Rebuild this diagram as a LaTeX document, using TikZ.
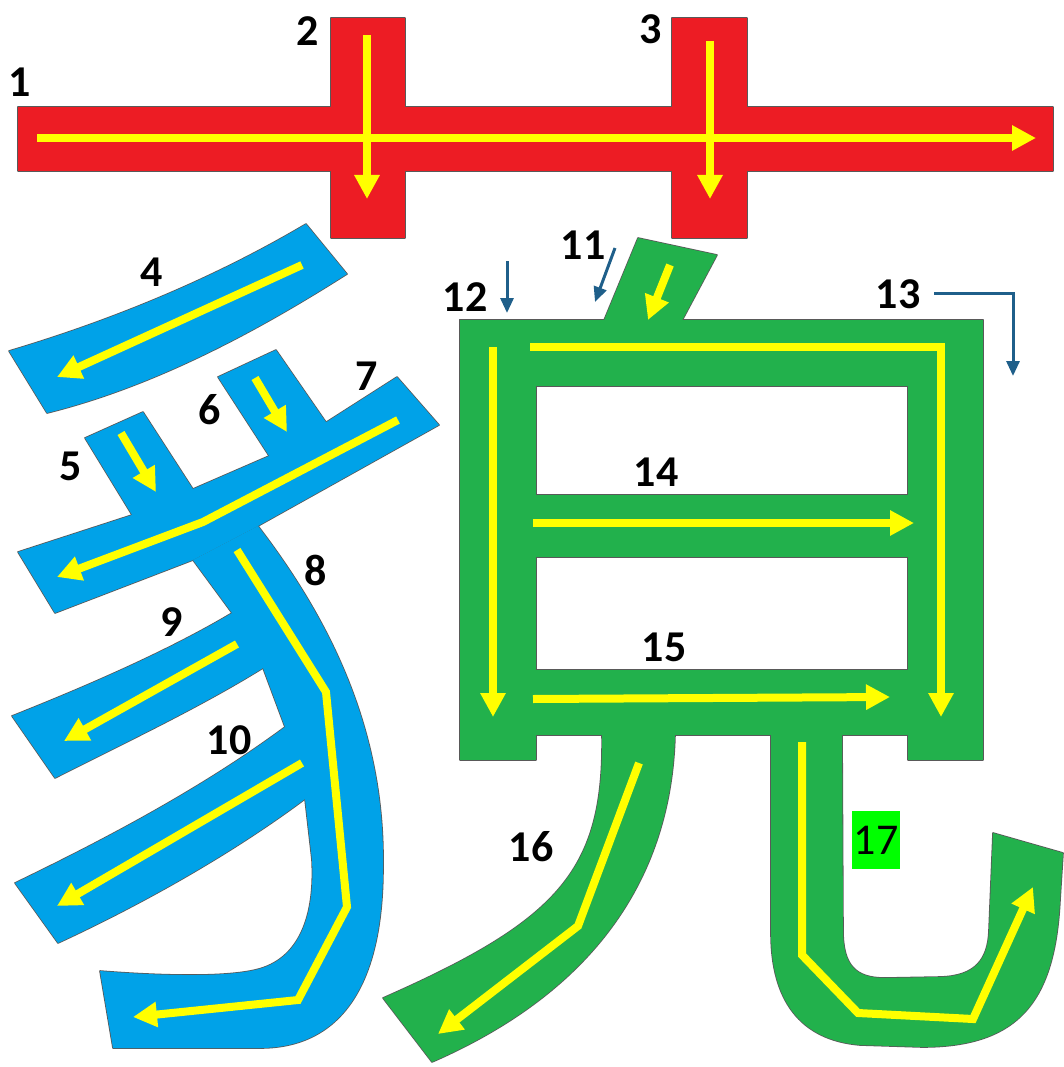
\documentclass[tikz,border=0pt]{standalone}
\usepackage{fontspec}
\setmainfont{Carlito}
\usetikzlibrary{arrows.meta}
\definecolor{redC}{HTML}{ED1C24}
\definecolor{blueC}{HTML}{00A2E8}
\definecolor{greenC}{HTML}{22B14C}
\definecolor{yelC}{HTML}{FFFF00}
\definecolor{navyC}{HTML}{1F5F8A}
\definecolor{labG}{HTML}{00FF00}
\begin{document}
\begin{tikzpicture}[x=1pt,y=-1pt,
  edge/.style={draw=black!65,line width=1.6pt,line join=round},
  yarr/.style={draw=yelC,line width=8pt,-{Triangle[length=24pt,width=24pt]}},
  narr/.style={draw=navyC,line width=3pt,-{Triangle[length=15pt,width=13pt]}},
  lab/.style={font=\bfseries\fontsize{44}{48}\selectfont,inner sep=0pt}]
\useasboundingbox (0,0) rectangle (1063,1067);
% ---------- shape paths ----------
\def\rA{(18,107) rectangle (1053,171)}
\def\rB{(331,18) rectangle (405,238)}
\def\rC{(672,18) rectangle (747,238)}
\def\bFour{(9,351) .. controls (120,318) and (220,275) .. (306,224) -- (347,274) .. controls (265,326) and (160,385) .. (47,413) -- cycle}
\def\bSeven{(18,552) -- (132,515) -- (193,489) -- (269,456) -- (325,423) -- (397,377) -- (439,425) -- (258,526) -- (193,560) -- (55,613) -- cycle}
\def\bFive{(85,438) -- (143,412) -- (200,500) -- (140,528) -- cycle}
\def\bSix{(218,377) -- (276,350) -- (330,428) -- (275,465) -- cycle}
\def\bEight{(193,560) -- (258,526) .. controls (330,620) and (385,730) .. (383,867) .. controls (383,1000) and (330,1048) .. (260,1048) -- (113,1048) -- (100,971) .. controls (150,975) and (220,978) .. (255,970) .. controls (300,960) and (315,915) .. (312,860) -- (305,799) -- (285,727) -- (263,668) -- (232,613) -- cycle}
\def\bNine{(12,716) .. controls (90,685) and (170,650) .. (232,613) -- (275,640) -- (263,668) .. controls (200,707) and (130,740) .. (55,778) -- cycle}
\def\bTen{(15,883) .. controls (100,842) and (200,790) .. (285,727) -- (310,760) -- (305,799) .. controls (230,855) and (140,905) .. (58,943) -- cycle}
\def\gL{(460,320) rectangle (536,760)}
\def\gR{(908,320) rectangle (983,760)}
\def\gT{(460,320) rectangle (983,386)}
\def\gM{(460,495) rectangle (983,557)}
\def\gB{(460,670) rectangle (983,735)}
\def\gDot{(638,238) -- (717,255) -- (677,330) -- (600,330) -- cycle}
\def\gSixteen{(602,725) -- (675,725) -- (675,735) .. controls (672,850) and (620,980) .. (432,1062) -- (383,998) .. controls (560,920) and (604,870) .. (602,735) -- cycle}
\def\gSeventeen{(771,725) -- (842,725) -- (843,930) .. controls (843,965) and (855,978) .. (885,978) -- (940,977) .. controls (975,976) and (988,960) .. (989,930) -- (993,833) -- (1063,853) -- (1060,900) .. controls (1055,1000) and (1020,1047) .. (922,1047) -- (860,1045) .. controls (800,1040) and (771,1000) .. (771,933) -- cycle}
% ---------- edges ----------
\foreach \p in {\rA,\rB,\rC,\bFour,\bSeven,\bFive,\bSix,\bEight,\bNine,\bTen,\gL,\gR,\gT,\gM,\gB,\gDot,\gSixteen,\gSeventeen}{\path[edge] \p;}
% ---------- fills ----------
\foreach \p in {\rA,\rB,\rC}{\path[fill=redC] \p;}
\foreach \p in {\bFour,\bSeven,\bFive,\bSix,\bEight,\bNine,\bTen}{\path[fill=blueC] \p;}
\foreach \p in {\gL,\gR,\gT,\gM,\gB,\gDot,\gSixteen,\gSeventeen}{\path[fill=greenC] \p;}
% ---------- yellow stroke arrows ----------
\draw[yarr] (37,138) -- (1036,138);
\draw[yarr] (367,35) -- (367,199);
\draw[yarr] (710,41) -- (710,199);
\draw[yarr] (302,265) -- (57,377);
\draw[yarr] (121,433) -- (156,492);
\draw[yarr] (255,378) -- (287,432);
\draw[yarr] (398,420) -- (203,522) -- (57,577);
\draw[yarr] (237,550) -- (326,692) -- (347,907) -- (298,1000) -- (133,1017);
\draw[yarr] (237,644) -- (64,741);
\draw[yarr] (302,763) -- (57,906);
\draw[yarr] (670,265) -- (648,320);
\draw[yarr] (493,347) -- (493,717);
\draw[yarr] (530,347) -- (941,347) -- (941,717);
\draw[yarr] (533,523) -- (914,523);
\draw[yarr] (533,699) -- (890,697);
\draw[yarr] (639,763) -- (578,926) -- (438,1034);
\draw[yarr] (802,742) -- (802,955) -- (858,1013) -- (973,1019) -- (1033,887);
% ---------- small navy arrows ----------
\coordinate (n12a) at (507,261); \coordinate (n12b) at (507,313);
\coordinate (n11a) at (615,248); \coordinate (n11b) at (595,302);
\coordinate (n13a) at (934,293); \coordinate (n13c) at (1013,293); \coordinate (n13b) at (1013,376);
\draw[narr] (n12a) -- (n12b);
\draw[narr] (n11a) -- (n11b);
\draw[narr] (n13a) -- (n13c) -- (n13b);
% ---------- labels ----------
\node[lab] (l1) at (20,82) {1};
\node[lab] (l2) at (308,31) {2};
\node[lab] (l3) at (651,29) {3};
\node[lab] (l4) at (152,272) {4};
\node[lab] (l5) at (71,466) {5};
\node[lab] (l6) at (210,410) {6};
\node[lab] (l7) at (367,376) {7};
\node[lab] (l8) at (316,570) {8};
\node[lab] (l9) at (172,622) {9};
\node[lab] (l10) at (229,740) {10};
\node[lab] (l11) at (583,245) {11};
\node[lab] (l12) at (465,297) {12};
\node[lab] (l13) at (898,294) {13};
\node[lab] (l14) at (656,472) {14};
\node[lab] (l15) at (664,647) {15};
\node[lab] (l16) at (531,847) {16};
\node[font=\fontsize{44}{48}\selectfont,inner sep=0pt,fill=labG,minimum width=48pt,minimum height=58pt] (l17) at (876,840) {17};
\end{tikzpicture}
\end{document}
